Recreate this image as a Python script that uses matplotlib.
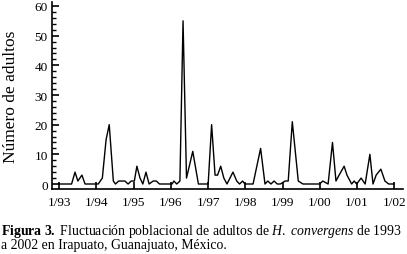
import matplotlib
matplotlib.use("Agg")
import matplotlib.pyplot as plt
from matplotlib.ticker import MultipleLocator

plt.rcParams['font.family'] = ['Liberation Serif', 'DejaVu Serif']
plt.rcParams['mathtext.fontset'] = 'custom'
plt.rcParams['mathtext.rm'] = 'Liberation Serif'
plt.rcParams['mathtext.it'] = 'Liberation Serif:italic'
plt.rcParams['mathtext.bf'] = 'Liberation Serif:bold'

# months since Jan 1993 and number of adults
months = [0, 4.05, 5.16, 6.07, 7.38, 8.39, 12.64, 13.96, 15.17, 16.18, 17.5, 18.2, 19.21,
          21.24, 22.25, 23.26, 24.27, 25.08, 26.09, 27.0, 28.01, 29.02, 30.34, 31.35, 32.36,
          36.41, 37.01, 37.92, 38.94, 39.95, 41.06, 43.08, 44.9, 48.04, 49.15, 50.26, 51.07,
          52.08, 53.09, 54.1, 56.03, 57.24, 58.15, 59.16, 59.87, 62.5, 64.93, 66.34, 67.25,
          68.26, 69.27, 70.29, 71.3, 72.81, 73.82, 75.14, 77.06, 78.58, 83.94, 84.95, 86.67,
          88.08, 89.2, 90.21, 91.83, 92.74, 94.25, 95.06, 95.87, 97.29, 98.6, 100.12, 101.13,
          102.14, 103.66, 104.97, 106.19, 107.91]
adults = [0, 0, 4, 1, 3, 0, 0, 2, 15, 20, 1, 0, 1,
          1, 0, 1, 1, 6, 2, 0, 4, 0, 1, 1, 0,
          0, 1, 0, 1, 55, 2, 11, 0, 0, 20, 3, 3,
          6, 2, 0, 4, 1, 0, 1, 0, 0, 12, 0, 1,
          0, 1, 0, 0, 1, 1, 21, 1, 0, 0, 1, 0,
          14, 1, 3, 6, 3, 0, 1, 0, 2, 0, 10, 0,
          3, 5, 1, 0, 0]

tick_years = [1993, 1994, 1995, 1996, 1997, 1998, 1999, 2000, 2001, 2002]
tick_labels = ["1/93", "1/94", "1/95", "1/96", "1/97", "1/98", "1/99", "1/00", "1/01", "1/02"]

W, H = 407, 255
PX_YR = 37.26
fig = plt.figure(figsize=(W / 100, H / 100), dpi=100)
ax = fig.add_axes([52 / W, 1 - 190 / H, (403 - 52) / W, (190 - 3) / H])

x = [1993 + m / 12 for m in months]
ax.plot(x, adults, color='black', lw=1.0)

ax.set_xlim(1993 - 7 / PX_YR, 1993 + (403 - 59) / PX_YR)
ax.set_ylim(-5 / 2.967, 60 + 4 / 2.967)
ax.set_xticks(tick_years)
ax.set_xticklabels(tick_labels)
ax.set_yticks([0, 10, 20, 30, 40, 50, 60])
ax.yaxis.set_minor_locator(MultipleLocator(2))
for s in ['top', 'right']:
    ax.spines[s].set_visible(False)
for s in ['left', 'bottom']:
    ax.spines[s].set_linewidth(1.2)
ax.tick_params(axis='x', direction='in', length=5, width=1.2, labelsize=9.5, pad=5)
ax.tick_params(axis='y', which='major', direction='in', length=5, width=1.2, labelsize=9.5, pad=3)
ax.tick_params(axis='y', which='minor', direction='in', length=3, width=1.0)
ax.set_ylabel("Número de adultos", fontsize=12.5, labelpad=11)

fig.text(1 / W, 1 - 235 / H,
         r"$\mathbf{Figura\ 3.}$ Fluctuación poblacional de adultos de $\mathit{H.\ convergens}$ de 1993",
         fontsize=9.9, ha='left', va='baseline')
fig.text(1 / W, 1 - 249 / H, "a 2002 en Irapuato, Guanajuato, México.",
         fontsize=9.9, ha='left', va='baseline')

fig.savefig("out.png", dpi=100)
